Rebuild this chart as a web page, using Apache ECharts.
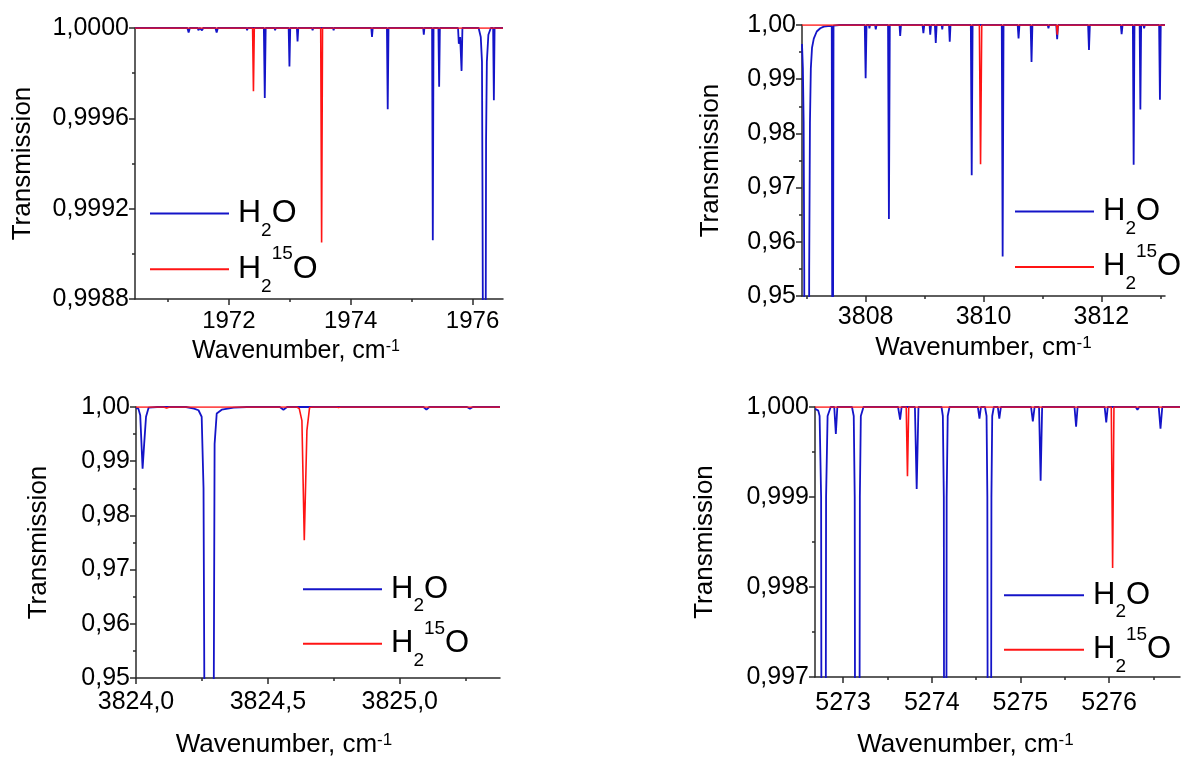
<!DOCTYPE html>
<html><head><meta charset="utf-8">
<script src="https://cdn.jsdelivr.net/npm/echarts@6/dist/echarts.min.js"></script>
<style>html,body{margin:0;padding:0;background:#fff}#c{width:1189px;height:759px}</style>
</head><body><div id="c"></div>
<script>
// ---------- Panel 1 ----------
const p1XTicks = [1972, 1974, 1976];
const p1XMinor = [1971, 1973, 1975];
const p1YTicks = [0.9988, 0.9992, 0.9996, 1.0];
const p1YMinor = [0.999, 0.9994, 0.9998];
const p1H2O = [
[1970.46,1],
[1971.32,1],[1971.34,0.99998],[1971.36,1],
[1971.49,1],[1971.50,0.99999],[1971.52,1],
[1971.55,1],[1971.56,0.99999],[1971.58,1],
[1971.78,1],[1971.80,0.99998],[1971.82,1],
[1972.29,1],[1972.30,0.99999],[1972.31,1],
[1972.575,1],[1972.59,0.99969],[1972.605,1],
[1972.75,1],[1972.76,0.99999],[1972.77,1],
[1972.982,1],[1972.995,0.99983],[1973.008,1],
[1973.117,1],[1973.128,0.99994],[1973.14,1],
[1973.365,1],[1973.375,0.99999],[1973.385,1],
[1973.71,1],[1973.72,0.99999],[1973.73,1],
[1974.338,1],[1974.35,0.99996],[1974.362,1],
[1974.595,1],[1974.608,0.99964],[1974.621,1],
[1975.19,1],[1975.20,0.99997],[1975.21,1],
[1975.336,1],[1975.348,0.99906],[1975.36,1],
[1975.44,1],[1975.452,0.99974],[1975.464,1],
[1975.762,1],[1975.775,0.99993],[1975.797,0.99996],[1975.82,0.99981],[1975.834,1],
[1976.10,1],[1976.135,0.99996],[1976.155,0.99985],[1976.163,0.9993],[1976.172,0.9985],[1976.195,0.997],[1976.215,0.9985],[1976.222,0.9995],[1976.235,0.99985],[1976.26,0.99997],[1976.3,1],
[1976.338,1],[1976.35,0.99968],[1976.362,1],
[1976.5,1]
];
const p1H215O = [
[1970.46,1],
[1972.39,1],[1972.404,0.99972],[1972.418,1],
[1973.508,1],[1973.523,0.99905],[1973.538,1],
[1976.5,1]
];

// ---------- Panel 2 ----------
const p2XTicks = [3808, 3810, 3812];
const p2XMinor = [3807, 3809, 3811, 3813];
const p2YTicks = [0.95, 0.96, 0.97, 0.98, 0.99, 1.0];
const p2YMinor = [0.955, 0.965, 0.975, 0.985, 0.995];
const p2H2O = [
[3806.92,0.9965],[3806.935,0.992],[3806.948,0.982],[3806.958,0.955],[3807.0,0.6],[3807.042,0.955],[3807.055,0.982],[3807.07,0.992],[3807.09,0.9958],[3807.12,0.9975],[3807.17,0.9988],[3807.23,0.9994],[3807.29,0.9997],[3807.36,0.9998],[3807.425,0.9998],[3807.44,0.90],[3807.455,0.9999],[3807.55,1],
[3807.985,1],[3808.0,0.9902],[3808.015,1],
[3808.055,1],[3808.064,0.9994],[3808.075,1],
[3808.16,1],[3808.172,0.9992],[3808.185,1],
[3808.38,1],[3808.395,0.9642],[3808.41,1],
[3808.575,1],[3808.586,0.9980],[3808.6,1],
[3808.965,1],[3808.98,0.9985],[3808.995,1],
[3809.085,1],[3809.096,0.9982],[3809.11,1],
[3809.175,1],[3809.19,0.9967],[3809.205,1],
[3809.29,1],[3809.30,0.9992],[3809.31,1],
[3809.415,1],[3809.427,0.9969],[3809.44,1],
[3809.72,1],[3809.73,0.9997],[3809.745,1],
[3809.785,1],[3809.80,0.9723],[3809.815,1],
[3810.23,1],[3810.242,0.9997],[3810.255,1],
[3810.31,1],[3810.325,0.9573],[3810.34,1],
[3810.58,1],[3810.595,0.9975],[3810.61,1],
[3810.80,1],[3810.815,0.9932],[3810.83,1],
[3811.09,1],[3811.102,0.9994],[3811.115,1],
[3811.235,1],[3811.25,0.9974],[3811.265,1],
[3811.775,1],[3811.79,0.9954],[3811.805,1],
[3812.33,1],[3812.344,0.9983],[3812.36,1],
[3812.535,1],[3812.548,0.9742],[3812.562,1],
[3812.65,1],[3812.662,0.9844],[3812.675,1],
[3812.715,1],[3812.726,0.9994],[3812.738,1],
[3812.98,1],[3812.994,0.9862],[3813.008,1],
[3813.08,1]
];
const p2H215O = [
[3806.92,1],
[3809.93,1],[3809.95,0.9743],[3809.97,1],
[3811.24,1],[3811.252,0.9982],[3811.265,1],
[3813.08,1]
];

// ---------- Panel 3 ----------
const p3XTicks = [3824.0, 3824.5, 3825.0];
const p3XMinor = [3824.25, 3824.75, 3825.25];
const p3YTicks = [0.95, 0.96, 0.97, 0.98, 0.99, 1.0];
const p3YMinor = [0.955, 0.965, 0.975, 0.985, 0.995];
const p3H2O = [
[3824.0,0.9998],[3824.009,0.9997],[3824.016,0.9985],[3824.025,0.9886],[3824.031,0.9932],[3824.038,0.9982],[3824.048,0.9999],[3824.08,1],
[3824.19,1],[3824.22,0.9997],[3824.237,0.9994],[3824.249,0.9982],[3824.256,0.985],[3824.259,0.95],[3824.277,0.5],[3824.295,0.95],[3824.298,0.9932],[3824.306,0.9988],[3824.325,0.9995],[3824.37,0.9999],[3824.42,1],
[3824.545,1],[3824.559,0.9995],[3824.573,1],
[3825.09,1],[3825.101,0.9995],[3825.112,1],
[3825.145,1],[3825.152,0.9998],[3825.16,1],
[3825.255,1],[3825.266,0.9997],[3825.277,1],
[3825.38,1]
];
const p3H215O = [
[3824.0,1],
[3824.105,1],[3824.116,0.9998],[3824.127,1],
[3824.61,1],[3824.619,0.9997],[3824.629,0.9975],[3824.638,0.9754],[3824.648,0.9957],[3824.658,0.9999],[3824.67,1],
[3824.76,1],[3824.768,0.9999],[3824.776,1],
[3825.38,1]
];

// ---------- Panel 4 ----------
const p4XTicks = [5273, 5274, 5275, 5276];
const p4XMinor = [5273.5, 5274.5, 5275.5, 5276.5];
const p4YTicks = [0.997, 0.998, 0.999, 1.0];
const p4YMinor = [0.9975, 0.9985, 0.9995];
const p4H2O = [
[5272.683,0.99998],[5272.70,0.99998],[5272.72,0.99996],[5272.735,0.9999],[5272.752,0.999],[5272.756,0.996],[5272.78,0.99],[5272.804,0.996],[5272.808,0.999],[5272.825,0.9999],[5272.86,1],
[5272.90,1],[5272.918,0.9997],[5272.935,1],
[5273.10,1],[5273.12,0.9999],[5273.131,0.999],[5273.135,0.996],[5273.16,0.99],[5273.185,0.996],[5273.189,0.999],[5273.20,0.9999],[5273.23,1],
[5273.62,1],[5273.643,0.99986],[5273.66,1],
[5273.81,1],[5273.83,0.99909],[5273.85,1],
[5274.11,1],[5274.125,0.9999],[5274.136,0.999],[5274.139,0.996],[5274.152,0.99],[5274.165,0.996],[5274.168,0.999],[5274.18,0.9999],[5274.2,1],
[5274.52,1],[5274.538,0.99987],[5274.555,1],
[5274.60,1],[5274.618,0.9999],[5274.627,0.999],[5274.631,0.996],[5274.65,0.99],[5274.669,0.996],[5274.673,0.999],[5274.682,0.9999],[5274.70,1],
[5274.745,1],[5274.762,0.99987],[5274.78,1],
[5275.12,1],[5275.14,0.99984],[5275.16,1],
[5275.21,1],[5275.228,0.99918],[5275.245,1],
[5275.61,1],[5275.628,0.99978],[5275.645,1],
[5275.95,1],[5275.968,0.99983],[5275.985,1],
[5276.30,1],[5276.32,0.99997],[5276.34,1],
[5276.56,1],[5276.58,0.99976],[5276.60,1],
[5276.80,1]
];
const p4H215O = [
[5272.683,1],
[5273.712,1],[5273.726,0.99923],[5273.74,1],
[5276.025,1],[5276.04,0.99821],[5276.055,1],
[5276.80,1]
];

// ---------- styling / building ----------
const FONT = '"Liberation Sans", Arial, sans-serif';
const AX = '#2a2a2a';
const BLUE = '#1414c8';
const RED = '#ff1414';
const fmt = (v, d) => Number(v).toFixed(d).replace('.', ',');

function nameRich(F) {
  const S = Math.round(F * 0.65);
  return {
    a: { fontSize: F, height: F, fontFamily: FONT, color: '#000', verticalAlign: 'top' },
    s: { fontSize: S, height: S, fontFamily: FONT, color: '#000', verticalAlign: 'top' }
  };
}
function legendRich(F) {
  const S = Math.round(0.6 * F);
  const P = 0.35 * F;
  const T = P + F / 2 + 0.55 * F - S / 2;
  const Q = Math.max(0, P + F / 2 - 0.48 * F - S / 2);
  const b = { fontFamily: FONT, color: '#000', verticalAlign: 'top' };
  return {
    h: Object.assign({}, b, { fontSize: F, height: F, padding: [P, 0, 0, 4] }),
    m: Object.assign({}, b, { fontSize: F, height: F, padding: [P, 0, 0, 0] }),
    sub: Object.assign({}, b, { fontSize: S, height: S, padding: [T, 0, 0, 0] }),
    sup: Object.assign({}, b, { fontSize: S, height: S, padding: [Q, 0, 0, 0] })
  };
}

const panels = [
  { grid: { left: 135, top: 28, width: 368, height: 271 }, xr: [1970.46, 1976.5], yr: [0.9988, 1.0],
    xt: p1XTicks, xm: p1XMinor, yt: p1YTicks, ym: p1YMinor, xd: 0, yd: 4,
    xfs: 24, yfs: 25, tfs: 25, yTfs: 26, xMargin: 10, xGap: 40, xShift: 23, yGap: 99, leg: { left: 150, top: 197.6, F: 32, w: 79, gap: 3.7 },
    h2o: p1H2O, h215o: p1H215O },
  { grid: { left: 802, top: 25, width: 363, height: 271 }, xr: [3806.92, 3813.08], yr: [0.95, 1.0],
    xt: p2XTicks, xm: p2XMinor, yt: p2YTicks, ym: p2YMinor, xd: 0, yd: 2,
    xfs: 25, yfs: 25, tfs: 26, yTfs: 26, xMargin: 9, xGap: 39, xShift: 0, yGap: 78, leg: { left: 1015, top: 196, F: 31, w: 79, gap: 4.4 },
    h2o: p2H2O, h215o: p2H215O },
  { grid: { left: 136, top: 407, width: 364, height: 271 }, xr: [3824.0, 3825.38], yr: [0.95, 1.0],
    xt: p3XTicks, xm: p3XMinor, yt: p3YTicks, ym: p3YMinor, xd: 1, yd: 2,
    xfs: 25, yfs: 25, tfs: 26, yTfs: 26, xMargin: 12, xGap: 54, xShift: 34, yGap: 84, leg: { left: 303, top: 573.7, F: 31, w: 79, gap: 3.5 },
    h2o: p3H2O, h215o: p3H215O },
  { grid: { left: 815, top: 407, width: 365, height: 270 }, xr: [5272.683, 5276.80], yr: [0.997, 1.0],
    xt: p4XTicks, xm: p4XMinor, yt: p4YTicks, ym: p4YMinor, xd: 0, yd: 3,
    xfs: 25, yfs: 25, tfs: 26, yTfs: 26, xMargin: 14, xGap: 55, xShift: 32, yGap: 97, leg: { left: 1004, top: 579.7, F: 31, w: 80, gap: 3.5 },
    h2o: p4H2O, h215o: p4H215O }
];

const option = { animation: false, backgroundColor: '#fff', grid: [], xAxis: [], yAxis: [], series: [], legend: [] };

panels.forEach((p, i) => {
  option.grid.push(Object.assign({ containLabel: false }, p.grid));
  option.xAxis.push({
    type: 'value', gridIndex: i, min: p.xr[0], max: p.xr[1], position: 'bottom',
    axisLine: { show: true, onZero: false, lineStyle: { color: AX, width: 1.5 } },
    axisTick: { show: true, length: 6, customValues: p.xt, lineStyle: { color: AX, width: 1.5 } },
    axisLabel: { show: true, customValues: p.xt, margin: p.xMargin, fontSize: p.xfs, fontFamily: FONT, color: '#000',
      formatter: v => fmt(v, p.xd) },
    splitLine: { show: false },
    name: '{a|Wavenumber, cm}{s|-1}', nameLocation: 'middle', nameGap: p.xGap,
    nameTextStyle: { rich: nameRich(p.tfs), padding: [0, 2 * p.xShift, 0, 0] }
  });
  option.xAxis.push({
    type: 'value', gridIndex: i, min: p.xr[0], max: p.xr[1], position: 'bottom',
    axisLine: { show: false }, axisLabel: { show: false }, splitLine: { show: false },
    axisTick: { show: true, length: 3, customValues: p.xm, lineStyle: { color: AX, width: 1.5 } }
  });
  option.yAxis.push({
    type: 'value', gridIndex: i, min: p.yr[0], max: p.yr[1], position: 'left',
    axisLine: { show: true, onZero: false, lineStyle: { color: AX, width: 1.5 } },
    axisTick: { show: true, length: 6, customValues: p.yt, lineStyle: { color: AX, width: 1.5 } },
    axisLabel: { show: true, customValues: p.yt, margin: 6, fontSize: p.yfs, fontFamily: FONT, color: '#000',
      formatter: v => fmt(v, p.yd) },
    splitLine: { show: false },
    name: 'Transmission', nameLocation: 'middle', nameGap: p.yGap,
    nameTextStyle: { fontSize: p.yTfs, fontFamily: FONT, color: '#000' }
  });
  option.yAxis.push({
    type: 'value', gridIndex: i, min: p.yr[0], max: p.yr[1], position: 'left',
    axisLine: { show: false }, axisLabel: { show: false }, splitLine: { show: false },
    axisTick: { show: true, length: 3, customValues: p.ym, lineStyle: { color: AX, width: 1.5 } }
  });
  option.series.push({
    name: 'H2O', type: 'line', xAxisIndex: 2 * i, yAxisIndex: 2 * i, data: p.h2o,
    symbol: 'none', clip: true, z: 2, lineStyle: { color: BLUE, width: 1.8 }, itemStyle: { color: BLUE }
  });
  option.series.push({
    name: 'H215O', type: 'line', xAxisIndex: 2 * i, yAxisIndex: 2 * i, data: p.h215o,
    symbol: 'none', clip: true, z: 3, lineStyle: { color: RED, width: 1.6 }, itemStyle: { color: RED }
  });
  option.legend.push({
    data: ['H2O', 'H215O'], orient: 'vertical', left: p.leg.left, top: p.leg.top, padding: 0,
    icon: 'rect', itemWidth: p.leg.w, itemHeight: 2, itemGap: p.leg.gap, selectedMode: false,
    formatter: n => n === 'H2O' ? '{h|H}{sub|2}{m|O}' : '{h|H}{sub|2}{sup|15}{m|O}',
    textStyle: { color: '#000', fontFamily: FONT, rich: legendRich(p.leg.F) }
  });
});

const chart = echarts.init(document.getElementById('c'), null, { renderer: 'canvas' });
chart.setOption(option);
</script></body></html>
